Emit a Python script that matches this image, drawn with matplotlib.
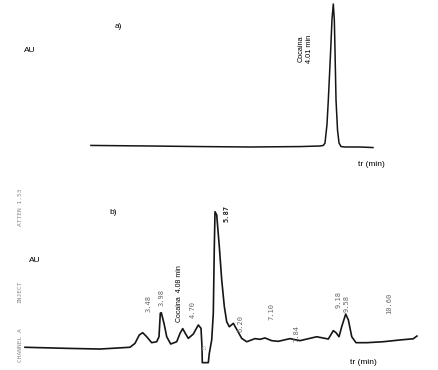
import numpy as np
import matplotlib
matplotlib.use("Agg")
import matplotlib.pyplot as plt

W, H = 439, 370

# a) standard: retention time (min) and relative absorbance (AU)
std_time = [-0.01, 0.97, 1.80, 2.63, 3.46, 3.79, 3.844, 3.872, 3.905, 3.927, 3.947,
            3.967, 3.988, 4.010, 4.027, 4.038, 4.055, 4.080, 4.105, 4.138, 4.204,
            4.453, 4.668]
std_au = [0.004, 0.0, -0.004, -0.007, -0.004, 0.0, 0.004, 0.02, 0.15, 0.32, 0.50,
          0.68, 0.89, 1.00, 0.887, 0.676, 0.324, 0.113, 0.021, -0.004, -0.007,
          -0.007, -0.011]

# b) sample chromatogram
smp_time = [-0.044, 1.205, 2.202, 3.10, 3.249, 3.378, 3.48, 3.60, 3.749, 3.899,
            3.968, 4.007, 4.037, 4.118, 4.199, 4.318, 4.498, 4.597, 4.678, 4.756,
            4.845, 4.995, 5.145, 5.226, 5.255, 5.264, 5.444, 5.474, 5.546, 5.594,
            5.624, 5.645, 5.696, 5.774, 5.846, 5.924, 5.995, 6.073, 6.193, 6.294,
            6.444, 6.594, 6.842, 6.992, 7.142, 7.342, 7.54, 7.89, 8.19, 8.69,
            9.037, 9.187, 9.268, 9.357, 9.438, 9.558, 9.638, 9.739, 9.866, 10.19,
            10.68, 11.18, 11.58, 11.69]
smp_au = [-0.002, -0.01, -0.015, -0.002, 0.027, 0.089, 0.106, 0.076, 0.032, 0.039,
          0.076, 0.25, 0.254, 0.175, 0.076, 0.022, 0.039, 0.101, 0.136, 0.101,
          0.064, 0.096, 0.163, 0.138, 0.002, -0.116, -0.116, -0.047, 0.052, 0.25,
          0.743, 1.002, 0.978, 0.743, 0.496, 0.299, 0.187, 0.150, 0.175, 0.131,
          0.064, 0.039, 0.062, 0.057, 0.067, 0.047, 0.042, 0.062, 0.047, 0.076,
          0.059, 0.121, 0.106, 0.076, 0.15, 0.244, 0.2, 0.076, 0.032, 0.032,
          0.039, 0.052, 0.061, 0.081]

# integrator peak labels (text, x px, y px)
peak_labels = ["3.48", "3.98", "4.70", "5.87", "6.20", "7.10", "7.84", "9.18", "9.58", "10.60"]
peak_pos = [(149, 303), (162, 298), (193, 310), (227, 213), (241, 323), (271, 312),
            (296, 333), (339, 300), (347, 304), (389, 303)]


def px(x, y):
    return x / W, 1 - y / H


fig = plt.figure(figsize=(W / 100, H / 100), dpi=100)
fig.patch.set_facecolor("white")

# top panel: 60.3 px per min, 142 px per AU, peak 4.01 min at x=333.3, baseline y=146
ax1 = fig.add_axes([0, 0, 1, 1])
ax1.set_xlim(4.01 - 333.3 / 60.3, 4.01 + (W - 333.3) / 60.3)
ax1.set_ylim((146 - H) / 142, 146 / 142)
ax1.plot(std_time, std_au, color="#151515", lw=1.1)
ax1.axis("off")
ax1.patch.set_alpha(0)

# bottom panel: 33.4 px per min, 135 px per AU, 3.48 min at x=142.7, baseline y=347
ax2 = fig.add_axes([0, 0, 1, 1])
ax2.set_xlim(3.48 - 142.7 / 33.4, 3.48 + (W - 142.7) / 33.4)
ax2.set_ylim((347 - H) / 135, 347 / 135)
ax2.plot(smp_time, smp_au, color="#151515", lw=1.2)
ax2.axis("off")
ax2.patch.set_alpha(0)

sans = "Liberation Sans"
mono = "DejaVu Sans Mono"

fig.text(*px(118, 27), "a)", fontsize=6, family=sans, ha="center", va="center")
fig.text(*px(30, 51), "AU", fontsize=6, family=sans, ha="center", va="center")
fig.text(*px(301, 49), "Cocaina", fontsize=5.3, family=sans, rotation=90,
         ha="center", va="center")
fig.text(*px(310, 49), "4.01 min", fontsize=5.3, family=sans, rotation=90,
         ha="center", va="center")
fig.text(*px(371, 165), "tr (min)", fontsize=6, family=sans, ha="center", va="center")

fig.text(*px(113, 213), "b)", fontsize=6, family=sans, ha="center", va="center")
fig.text(*px(35, 260), "AU", fontsize=6, family=sans, ha="center", va="center")
fig.text(*px(363, 363), "tr (min)", fontsize=6, family=sans, ha="center", va="center")
fig.text(*px(180, 294), "Cocaina  4.08 min", fontsize=5, family=sans, rotation=90,
         ha="center", va="center")

# integrator header printed along the left edge
for txt, yc in [("CHANNEL A", 345), ("INJECT", 292), ("ATTEN 1.53", 207)]:
    fig.text(*px(20, yc), txt, fontsize=4.5, family=mono, rotation=90,
             color="#8a8a8a", ha="center", va="center")

for lab, (x, y) in zip(peak_labels, peak_pos):
    bold = lab == "5.87"
    fig.text(*px(x, y), lab, fontsize=5, family=mono, rotation=90,
             color="#222222" if bold else "#666666",
             fontweight="bold" if bold else "normal", ha="center", va="center")

fig.text(*px(205, 347), "13", fontsize=3.5, family=mono, rotation=90,
         color="#aaaaaa", ha="center", va="center")

fig.savefig("out.png", dpi=100)
